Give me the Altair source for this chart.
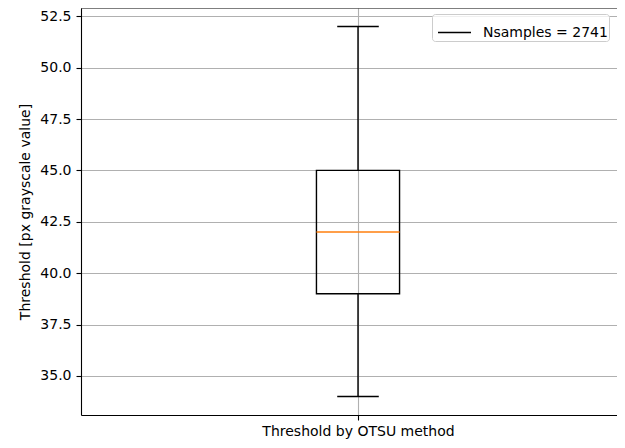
import altair as alt
import pandas as pd

# ---- data ----
positions = [1]
whislo = [34.0]
q1 = [39.0]
median = [42.0]
q3 = [45.0]
whishi = [52.0]
legend_labels = ["Nsamples = 2741"]
x_tick_label = "Threshold by OTSU method"
y_ticks = [35.0, 37.5, 40.0, 42.5, 45.0, 47.5, 50.0, 52.5]

df = pd.DataFrame({
    "pos": positions, "lo": whislo, "q1": q1, "med": median,
    "q3": q3, "hi": whishi, "label": legend_labels,
})

BOX_HALF = 0.075
CAP_HALF = 0.0375
W, H = 536, 407
FONT = "DejaVu Sans"

xscale = alt.Scale(domain=[0.5, 1.4675], nice=False, zero=False)
yscale = alt.Scale(domain=[33.1, 52.9], nice=False, zero=False)

xaxis = alt.Axis(values=[1], labelExpr=f"'{x_tick_label}'", title=None,
                 grid=True, labelLimit=600, labelPadding=4)
yaxis = alt.Axis(values=y_ticks, format=".1f",
                 title="Threshold [px grayscale value]", grid=True)

def X(f):
    return alt.X(f"{f}:Q", scale=xscale, axis=xaxis, title=None)

def Y(f):
    return alt.Y(f"{f}:Q", scale=yscale, axis=yaxis,
                 title="Threshold [px grayscale value]")

base = alt.Chart(df).transform_calculate(
    bl=f"datum.pos - {BOX_HALF}", br=f"datum.pos + {BOX_HALF}",
    cl=f"datum.pos - {CAP_HALF}", cr=f"datum.pos + {CAP_HALF}",
)

box = base.mark_rect(fillOpacity=0, stroke="black", strokeWidth=1.4).encode(
    x=X("bl"), x2="br", y=Y("q1"), y2="q3")

whisk_hi = base.mark_rule(strokeWidth=1.4).encode(
    x=X("pos"), y=Y("q3"), y2="hi",
    color=alt.Color("label:N",
                    scale=alt.Scale(domain=legend_labels, range=["black"]),
                    legend=alt.Legend(
                        title=None, orient="none", legendX=351, legendY=6,
                        symbolType="stroke", symbolSize=1089, symbolOffset=4,
                        symbolStrokeWidth=1.5, symbolStrokeColor="black",
                        labelFontSize=14, labelFont=FONT, labelColor="black",
                        labelOffset=11, padding=1,
                        fillColor="rgba(255,255,255,0.8)",
                        strokeColor="#cccccc", cornerRadius=3)))

whisk_lo = base.mark_rule(color="black", strokeWidth=1.4).encode(
    x=X("pos"), y=Y("lo"), y2="q1")

cap_hi = base.mark_rule(color="black", strokeWidth=1.4).encode(
    x=X("cl"), x2="cr", y=Y("hi"))
cap_lo = base.mark_rule(color="black", strokeWidth=1.4).encode(
    x=X("cl"), x2="cr", y=Y("lo"))

med = base.mark_rule(color="#ff7f0e", strokeWidth=1.4).encode(
    x=X("bl"), x2="br", y=Y("med"))

top_spine = base.mark_rule(color="black", strokeWidth=1.1).encode(
    x=alt.value(0), x2=alt.value(W), y=alt.value(0))

chart = alt.layer(box, whisk_hi, whisk_lo, cap_hi, cap_lo, med, top_spine).properties(
    width=W, height=H,
    autosize="none",
    padding={"left": 73, "top": 0, "right": 0, "bottom": 25},
).configure_view(stroke=None).configure_axis(
    labelFont=FONT, titleFont=FONT, labelFontSize=14, titleFontSize=14,
    titleFontWeight="normal", labelColor="black", titleColor="black",
    domainColor="black", domainWidth=1.1, tickColor="black", tickWidth=1.1,
    tickSize=5, labelPadding=5, gridColor="#b0b0b0", gridWidth=1.1,
    titlePadding=7,
)

chart.save("out.html", embed_options={"renderer": "svg", "actions": False})
